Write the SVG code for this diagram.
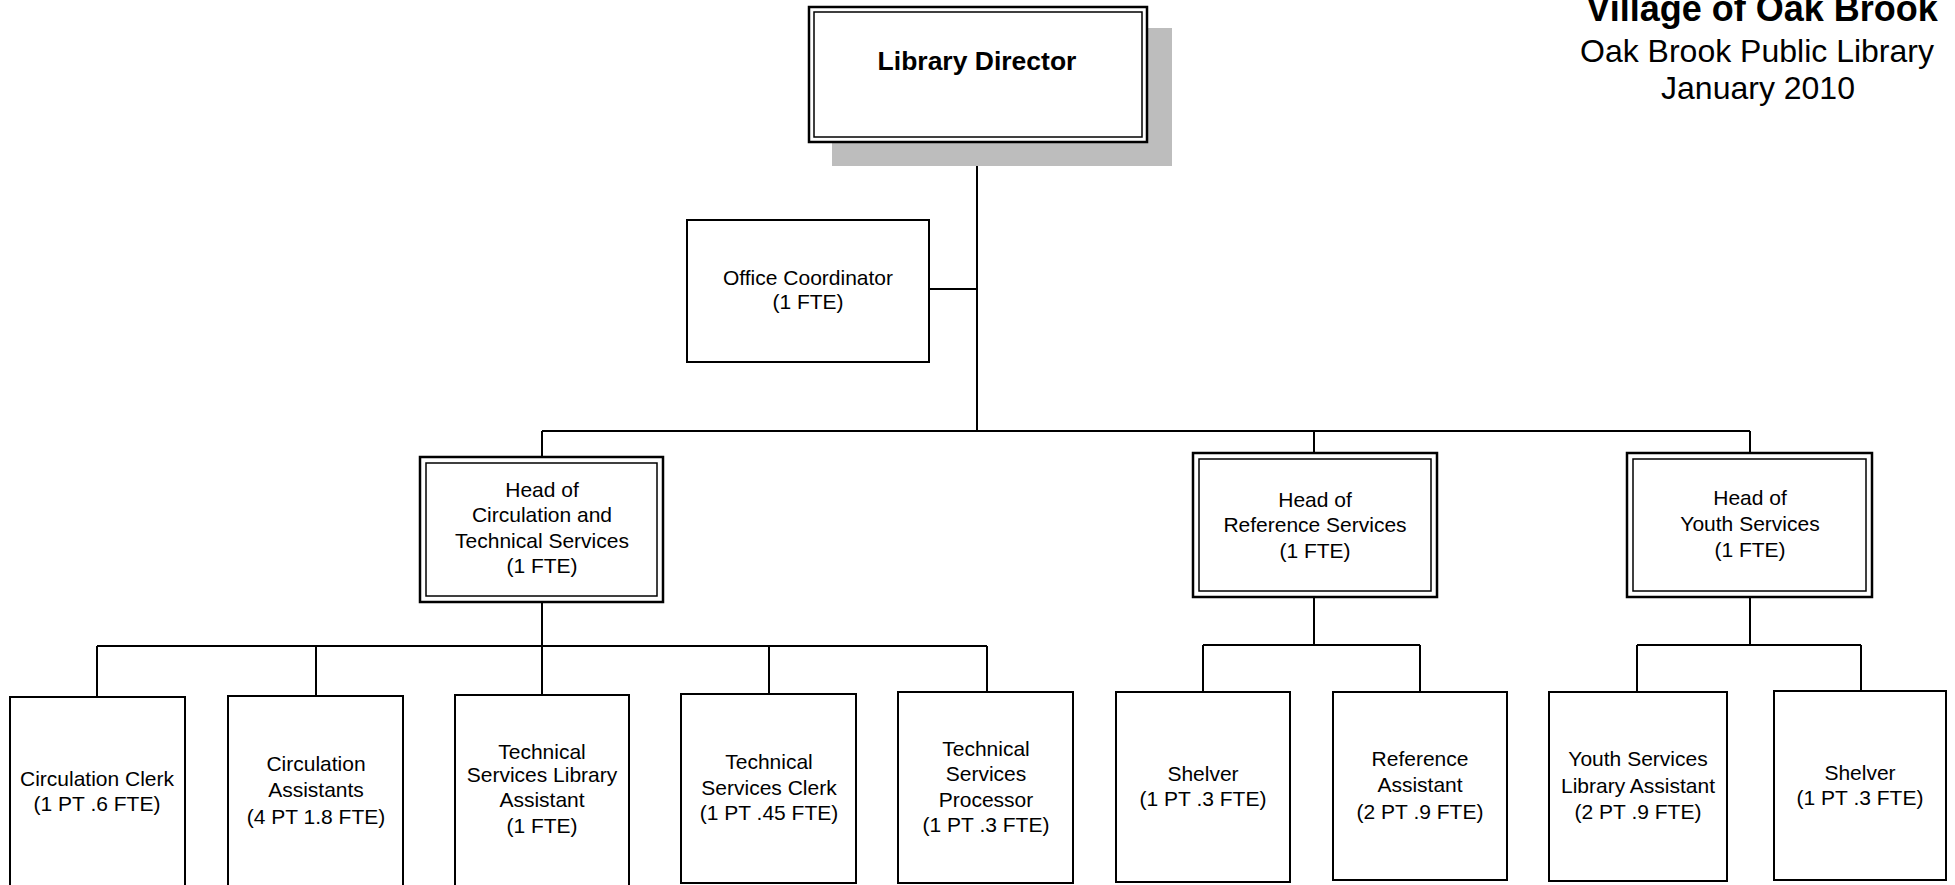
<svg xmlns="http://www.w3.org/2000/svg" width="1955" height="885" viewBox="0 0 1955 885">
<style>
  .bg{fill:#ffffff}
  .box{fill:#ffffff;stroke:#000;stroke-width:2}
  .outer{fill:#ffffff;stroke:#000;stroke-width:2.5}
  .inner{fill:none;stroke:#000;stroke-width:1.5}
  .shadow{fill:#bdbdbd}
  .conn line{stroke:#000;stroke-width:2;fill:none}
  text{font-family:"Liberation Sans",Arial,sans-serif;fill:#000;text-anchor:middle}
  .t{font-size:21px}
  .dir{font-size:26.5px;font-weight:bold}
  .title1{font-size:36px;font-weight:bold}
  .title2{font-size:32px}
</style>
<rect class="bg" x="0" y="0" width="1955" height="885"/>

<g id="title">
  <text class="title1" x="1762" y="21">Village of Oak Brook</text>
  <text class="title2" x="1757" y="62">Oak Brook Public Library</text>
  <text class="title2" x="1758" y="99">January 2010</text>
</g>

<g class="conn" id="connectors">
  <line x1="977" y1="142" x2="977" y2="431"/>
  <line x1="929" y1="289" x2="977" y2="289"/>
  <line x1="542" y1="431" x2="1750" y2="431"/>
  <line x1="542" y1="431" x2="542" y2="457"/>
  <line x1="1314" y1="431" x2="1314" y2="453"/>
  <line x1="1750" y1="431" x2="1750" y2="453"/>
  <line x1="542" y1="602" x2="542" y2="646"/>
  <line x1="97" y1="646" x2="987" y2="646"/>
  <line x1="97" y1="646" x2="97" y2="697"/>
  <line x1="316" y1="646" x2="316" y2="696"/>
  <line x1="542" y1="646" x2="542" y2="695"/>
  <line x1="769" y1="646" x2="769" y2="694"/>
  <line x1="987" y1="646" x2="987" y2="692"/>
  <line x1="1314" y1="597" x2="1314" y2="645"/>
  <line x1="1203" y1="645" x2="1420" y2="645"/>
  <line x1="1203" y1="645" x2="1203" y2="692"/>
  <line x1="1420" y1="645" x2="1420" y2="692"/>
  <line x1="1750" y1="597" x2="1750" y2="645"/>
  <line x1="1637" y1="645" x2="1861" y2="645"/>
  <line x1="1637" y1="645" x2="1637" y2="692"/>
  <line x1="1861" y1="645" x2="1861" y2="691"/>
</g>

<g id="library-director">
  <rect class="shadow" x="832" y="28" width="340" height="138"/>
  <rect class="outer" x="809" y="7" width="338" height="135"/>
  <rect class="inner" x="814" y="12" width="328" height="125"/>
  <text class="dir" x="977" y="70">Library Director</text>
</g>

<g id="office-coordinator">
  <rect class="box" x="687" y="220" width="242" height="142"/>
  <text class="t" x="808" y="285">Office Coordinator</text>
  <text class="t" x="808" y="309">(1 FTE)</text>
</g>

<g id="head-circulation">
  <rect class="outer" x="420" y="457" width="243" height="145"/>
  <rect class="inner" x="426" y="463" width="231" height="133"/>
  <text class="t" x="542" y="497">Head of</text>
  <text class="t" x="542" y="522">Circulation and</text>
  <text class="t" x="542" y="548">Technical Services</text>
  <text class="t" x="542" y="573">(1 FTE)</text>
</g>

<g id="head-reference">
  <rect class="outer" x="1193" y="453" width="244" height="144"/>
  <rect class="inner" x="1199" y="459" width="232" height="132"/>
  <text class="t" x="1315" y="507">Head of</text>
  <text class="t" x="1315" y="532">Reference Services</text>
  <text class="t" x="1315" y="558">(1 FTE)</text>
</g>

<g id="head-youth">
  <rect class="outer" x="1627" y="453" width="245" height="144"/>
  <rect class="inner" x="1633" y="459" width="233" height="132"/>
  <text class="t" x="1750" y="505">Head of</text>
  <text class="t" x="1750" y="531">Youth Services</text>
  <text class="t" x="1750" y="557">(1 FTE)</text>
</g>

<g id="circulation-clerk">
  <rect class="box" x="10" y="697" width="175" height="200"/>
  <text class="t" x="97" y="786">Circulation Clerk</text>
  <text class="t" x="97" y="811">(1 PT .6 FTE)</text>
</g>

<g id="circulation-assistants">
  <rect class="box" x="228" y="696" width="175" height="200"/>
  <text class="t" x="316" y="771">Circulation</text>
  <text class="t" x="316" y="797">Assistants</text>
  <text class="t" x="316" y="824">(4 PT 1.8 FTE)</text>
</g>

<g id="tech-services-library-assistant">
  <rect class="box" x="455" y="695" width="174" height="200"/>
  <text class="t" x="542" y="759">Technical</text>
  <text class="t" x="542" y="782">Services Library</text>
  <text class="t" x="542" y="807">Assistant</text>
  <text class="t" x="542" y="833">(1 FTE)</text>
</g>

<g id="tech-services-clerk">
  <rect class="box" x="681" y="694" width="175" height="189"/>
  <text class="t" x="769" y="769">Technical</text>
  <text class="t" x="769" y="795">Services Clerk</text>
  <text class="t" x="769" y="820">(1 PT .45 FTE)</text>
</g>

<g id="tech-services-processor">
  <rect class="box" x="898" y="692" width="175" height="191"/>
  <text class="t" x="986" y="756">Technical</text>
  <text class="t" x="986" y="781">Services</text>
  <text class="t" x="986" y="807">Processor</text>
  <text class="t" x="986" y="832">(1 PT .3 FTE)</text>
</g>

<g id="shelver-reference">
  <rect class="box" x="1116" y="692" width="174" height="190"/>
  <text class="t" x="1203" y="781">Shelver</text>
  <text class="t" x="1203" y="806">(1 PT .3 FTE)</text>
</g>

<g id="reference-assistant">
  <rect class="box" x="1333" y="692" width="174" height="188"/>
  <text class="t" x="1420" y="766">Reference</text>
  <text class="t" x="1420" y="792">Assistant</text>
  <text class="t" x="1420" y="819">(2 PT .9 FTE)</text>
</g>

<g id="youth-services-library-assistant">
  <rect class="box" x="1549" y="692" width="178" height="189"/>
  <text class="t" x="1638" y="766">Youth Services</text>
  <text class="t" x="1638" y="793">Library Assistant</text>
  <text class="t" x="1638" y="819">(2 PT .9 FTE)</text>
</g>

<g id="shelver-youth">
  <rect class="box" x="1774" y="691" width="172" height="189"/>
  <text class="t" x="1860" y="780">Shelver</text>
  <text class="t" x="1860" y="805">(1 PT .3 FTE)</text>
</g>
</svg>
